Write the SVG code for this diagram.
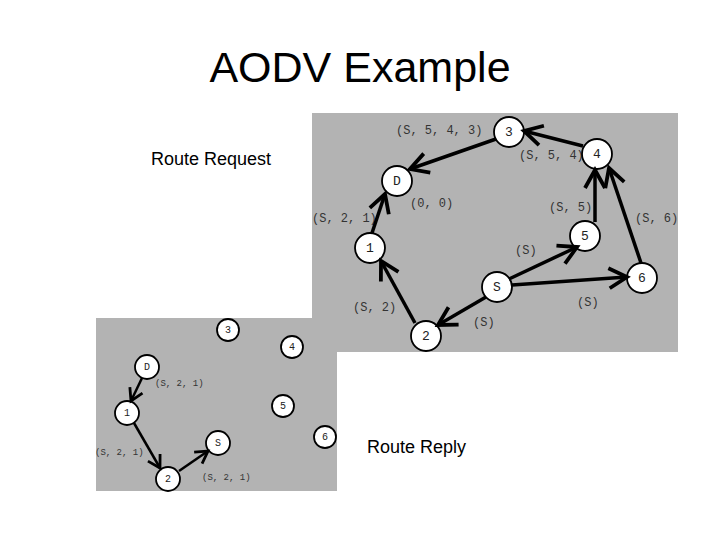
<svg xmlns="http://www.w3.org/2000/svg" width="720" height="540" viewBox="0 0 720 540">
<style>
.bg{fill:#b3b3b3}
.n{fill:#fff;stroke:#000;stroke-width:1.8}
.nt{font-family:"Liberation Mono",monospace;font-size:13px;fill:#222;text-anchor:middle;dominant-baseline:central}
.nts{font-family:"Liberation Mono",monospace;font-size:10px;fill:#222;text-anchor:middle;dominant-baseline:central}
.lb{font-family:"Liberation Mono",monospace;font-size:12px;fill:#333}
.lbs{font-family:"Liberation Mono",monospace;font-size:9px;fill:#333}
.e{stroke:#000;stroke-width:3.5;fill:none;marker-end:url(#ah)}
.es{stroke:#000;stroke-width:2.5;fill:none;marker-end:url(#ahs)}
.t{font-family:"Liberation Sans",Arial,sans-serif;fill:#000}
</style>
<defs>
<marker id="ah" markerUnits="userSpaceOnUse" markerWidth="28" markerHeight="28" viewBox="-23 -14 28 28" refX="0" refY="0" orient="auto">
<path d="M-18,-10 L0,0 L-18,10" fill="none" stroke="#000" stroke-width="3.8"/>
</marker>
<marker id="ahs" markerUnits="userSpaceOnUse" markerWidth="20" markerHeight="20" viewBox="-16 -10 20 20" refX="0" refY="0" orient="auto">
<path d="M-12,-7 L0,0 L-12,7" fill="none" stroke="#000" stroke-width="2.8"/>
</marker>
</defs>
<text class="t" x="360" y="82" font-size="43" text-anchor="middle">AODV Example</text>
<text class="t" x="151" y="165" font-size="18">Route Request</text>
<rect class="bg" x="312" y="113" width="366" height="239"/>
<rect class="bg" x="96" y="318" width="241" height="173"/>
<text class="t" x="367" y="453" font-size="18">Route Reply</text>
<g id="labels-request">
<text class="lb" x="396" y="134">(S, 5, 4, 3)</text>
<text class="lb" x="519" y="159">(S, 5, 4)</text>
<text class="lb" x="410" y="207">(0, 0)</text>
<text class="lb" x="312" y="222">(S, 2, 1)</text>
<text class="lb" x="549" y="211">(S, 5)</text>
<text class="lb" x="635" y="222">(S, 6)</text>
<text class="lb" x="515" y="254">(S)</text>
<text class="lb" x="353" y="311">(S, 2)</text>
<text class="lb" x="473" y="326">(S)</text>
<text class="lb" x="577" y="306">(S)</text>
</g>
<g id="labels-reply">
<text class="lbs" x="155" y="386">(S, 2, 1)</text>
<text class="lbs" x="95" y="455">(S, 2, 1)</text>
<text class="lbs" x="202" y="480">(S, 2, 1)</text>
</g>
<g id="node-3"><circle class="n" cx="509" cy="132" r="15"/><text class="nt" x="509" y="132">3</text></g>
<g id="node-4"><circle class="n" cx="597" cy="154" r="15"/><text class="nt" x="597" y="154">4</text></g>
<g id="node-D"><circle class="n" cx="397" cy="181" r="15"/><text class="nt" x="397" y="181">D</text></g>
<g id="node-1"><circle class="n" cx="370" cy="248" r="15"/><text class="nt" x="370" y="248">1</text></g>
<g id="node-5"><circle class="n" cx="585" cy="236" r="15"/><text class="nt" x="585" y="236">5</text></g>
<g id="node-6"><circle class="n" cx="642" cy="278" r="15"/><text class="nt" x="642" y="278">6</text></g>
<g id="node-S"><circle class="n" cx="497" cy="287" r="15"/><text class="nt" x="497" y="287">S</text></g>
<g id="node-2"><circle class="n" cx="426" cy="336" r="15"/><text class="nt" x="426" y="336">2</text></g>
<g id="reply-node-3"><circle class="n" cx="228" cy="330" r="11"/><text class="nts" x="228" y="330">3</text></g>
<g id="reply-node-4"><circle class="n" cx="292" cy="347" r="11"/><text class="nts" x="292" y="347">4</text></g>
<g id="reply-node-D"><circle class="n" cx="147" cy="367" r="12"/><text class="nts" x="147" y="367">D</text></g>
<g id="reply-node-5"><circle class="n" cx="283" cy="406" r="11"/><text class="nts" x="283" y="406">5</text></g>
<g id="reply-node-1"><circle class="n" cx="127" cy="413" r="12"/><text class="nts" x="127" y="413">1</text></g>
<g id="reply-node-6"><circle class="n" cx="325" cy="437" r="11"/><text class="nts" x="325" y="437">6</text></g>
<g id="reply-node-S"><circle class="n" cx="218" cy="443" r="12"/><text class="nts" x="218" y="443">S</text></g>
<g id="reply-node-2"><circle class="n" cx="168" cy="479" r="12"/><text class="nts" x="168" y="479">2</text></g>
<g id="connectors">
<line class="e" x1="583" y1="146" x2="524" y2="131"/>
<line class="e" x1="496" y1="139" x2="410" y2="169"/>
<line class="e" x1="372" y1="233" x2="385" y2="194"/>
<line class="e" x1="595" y1="222" x2="595" y2="170"/>
<line class="e" x1="641" y1="263" x2="609" y2="168"/>
<line class="e" x1="509" y1="279" x2="577" y2="247"/>
<line class="e" x1="512" y1="285" x2="627" y2="277"/>
<line class="e" x1="486" y1="297" x2="438" y2="325"/>
<line class="e" x1="415" y1="323" x2="381" y2="261"/>
<line class="es" x1="142" y1="378" x2="131" y2="401"/>
<line class="es" x1="134" y1="423" x2="160" y2="468"/>
<line class="es" x1="179" y1="471" x2="208" y2="451"/>
</g>
</svg>
